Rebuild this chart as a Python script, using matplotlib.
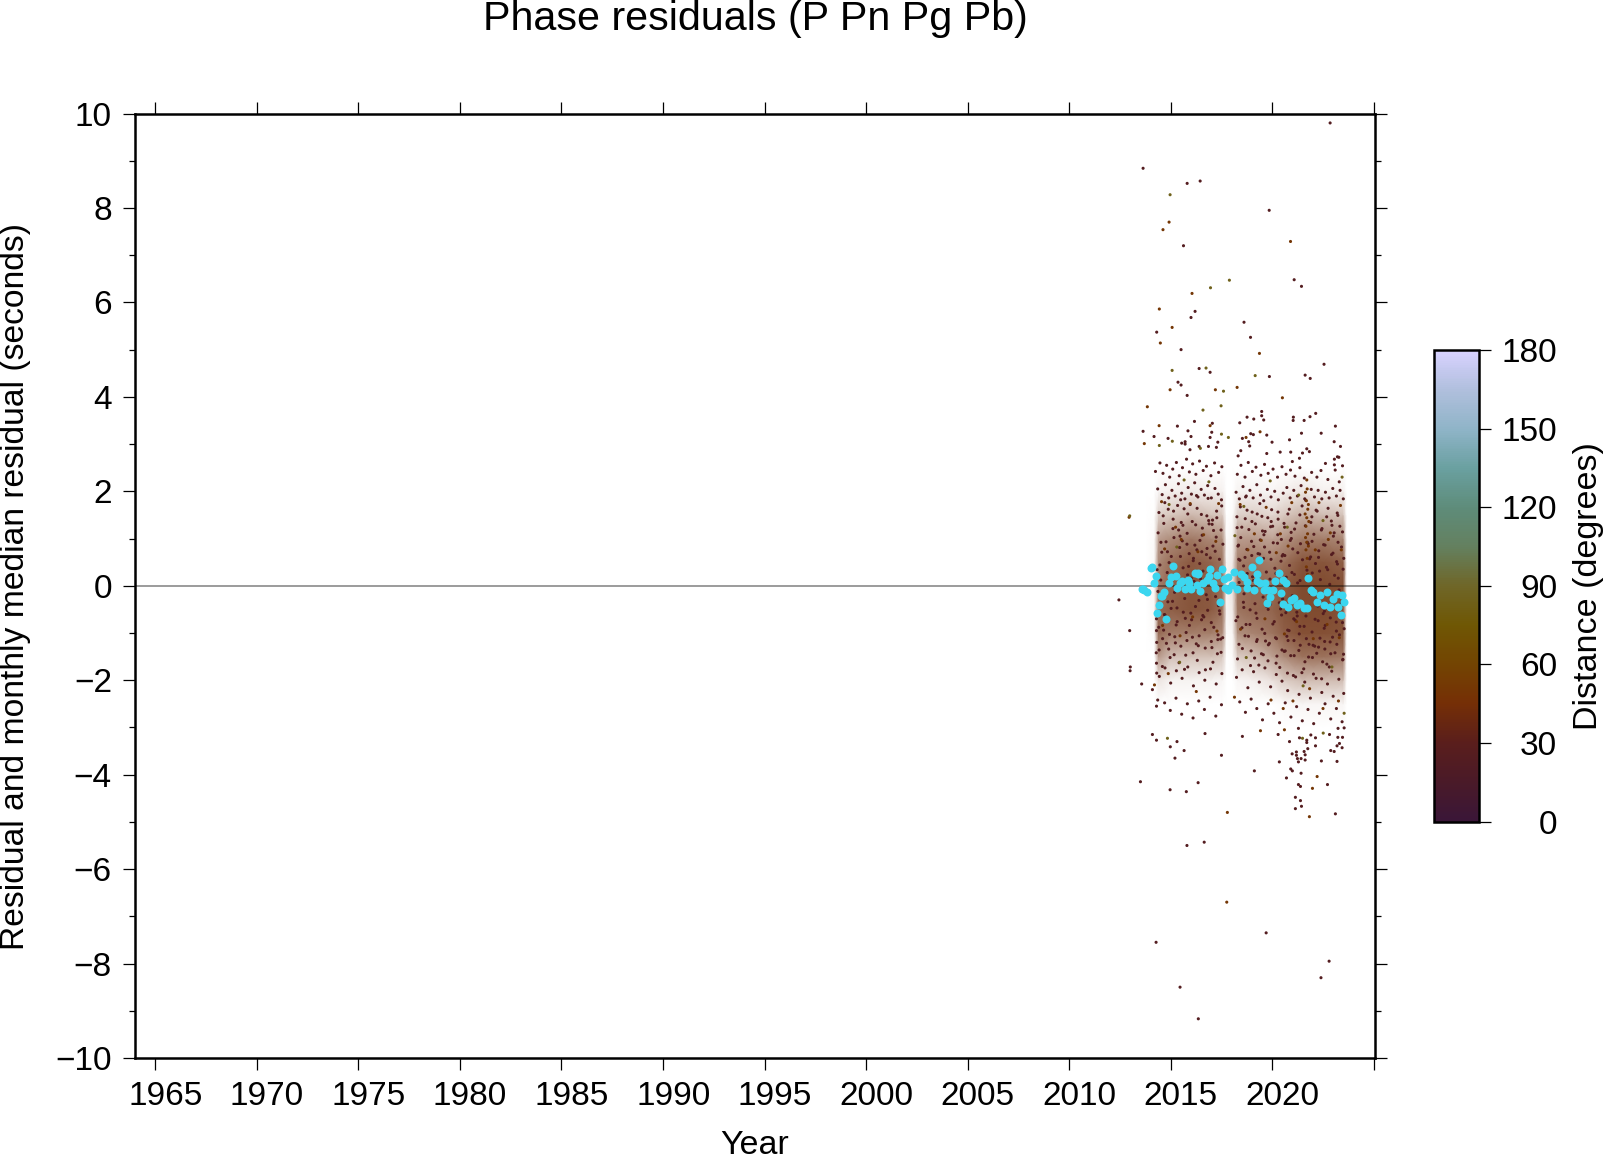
import matplotlib
matplotlib.use("Agg")
import matplotlib.pyplot as plt
from matplotlib.colors import LinearSegmentedColormap
from matplotlib.transforms import ScaledTranslation

plt.rcParams['font.family'] = ['Liberation Sans', 'DejaVu Sans']

# monthly medians (cyan)
median_year = [2013.63, 2013.57, 2013.69, 2013.82, 2014.02, 2014.10, 2014.26, 2014.20, 2014.57, 2014.67,
               2014.51, 2014.43, 2014.34, 2014.77, 2014.92, 2015.02, 2015.13, 2015.33, 2015.26, 2015.46,
               2015.54, 2015.71, 2015.87, 2015.92, 2015.99, 2016.20, 2016.36, 2016.36, 2016.28, 2016.45,
               2016.61, 2016.77, 2016.95, 2016.91, 2017.07, 2017.19, 2017.30, 2017.51, 2017.43, 2017.63,
               2017.68, 2017.84, 2017.84, 2018.01, 2018.12, 2018.25, 2018.45, 2018.61, 2018.74, 2018.78,
               2019.00, 2019.11, 2019.24, 2019.35, 2019.24, 2019.40, 2019.57, 2019.65, 2019.81, 2019.73,
               2019.89, 2020.06, 2020.14, 2020.35, 2020.44, 2020.52, 2020.55, 2020.68, 2020.80, 2020.91,
               2021.08, 2021.24, 2021.37, 2021.54, 2021.70, 2021.78, 2021.90, 2022.00, 2022.19, 2022.36,
               2022.55, 2022.69, 2022.85, 2023.01, 2023.21, 2023.26, 2023.38, 2023.42, 2023.54]
median_res = [-0.06, -0.06, -0.08, -0.13, 0.37, 0.39, 0.21, 0.06, -0.21, -0.13,
              -0.22, -0.41, -0.57, -0.70, 0.06, 0.19, 0.42, -0.04, 0.20, 0.05,
              0.11, -0.06, 0.12, 0.06, -0.06, 0.26, 0.24, 0.26, 0.01, -0.11,
              0.05, 0.13, 0.35, 0.20, 0.05, -0.04, 0.23, 0.35, -0.35, 0.14,
              -0.04, 0.18, -0.09, 0.01, 0.30, -0.06, 0.24, 0.19, 0.08, -0.04,
              0.40, -0.09, 0.25, 0.54, 0.11, 0.06, -0.08, 0.05, -0.09, -0.37,
              -0.23, -0.08, 0.11, 0.26, -0.16, -0.39, 0.13, 0.05, -0.46, -0.30,
              -0.25, -0.41, -0.36, -0.48, -0.48, 0.17, -0.09, -0.13, -0.34, -0.20,
              -0.41, -0.13, -0.45, -0.27, -0.18, -0.44, -0.61, -0.20, -0.35]

# density of the solid core, estimated by eye, since its dots overlap too much to read one by one
density_year = [2013.8, 2014.2, 2014.4, 2015.0, 2016.0, 2017.0, 2017.55, 2017.75, 2018.05, 2018.3,
                2019.0, 2020.0, 2020.6, 2021.5, 2022.5, 2023.5, 2023.65]
density_res = [-3.0, -2.5, -2.0, -1.5, -1.0, -0.5, 0.0, 0.5, 1.0, 1.5, 2.0, 2.5, 3.0]
density = [
    [0, 0, 0, 0, 0, 0, 0, 0, 0, 0, 0, 0, 0, 0, 0, 0, 0],
    [0, 0, 0, 0, 0, 0, 0, 0, 0, 0, 0, 0, .02, .04, .04, .04, 0],
    [0, 0, .10, .05, .05, .05, .04, 0, 0, .04, .06, .12, .20, .26, .26, .26, 0],
    [0, 0, .40, .25, .24, .24, .22, 0, .02, .20, .24, .36, .46, .55, .55, .52, 0],
    [0, .02, .58, .50, .50, .50, .45, .02, .04, .44, .48, .54, .62, .68, .68, .66, 0],
    [0, .03, .58, .62, .66, .64, .56, .04, .08, .54, .58, .60, .66, .70, .70, .68, 0],
    [0, .03, .50, .60, .66, .64, .56, .04, .12, .55, .58, .58, .64, .70, .70, .68, 0],
    [0, .03, .46, .56, .64, .60, .54, .04, .08, .50, .54, .50, .56, .66, .66, .62, 0],
    [0, .02, .38, .44, .52, .46, .44, .02, .05, .38, .40, .36, .42, .50, .50, .46, 0],
    [0, .01, .18, .22, .28, .24, .22, 0, .02, .18, .20, .16, .22, .30, .26, .24, 0],
    [0, 0, .04, .06, .08, .06, .06, 0, 0, .05, .05, .04, .06, .10, .06, .06, 0],
    [0, 0, 0, 0, 0, 0, 0, 0, 0, 0, 0, 0, 0, 0, 0, 0, 0],
    [0, 0, 0, 0, 0, 0, 0, 0, 0, 0, 0, 0, 0, 0, 0, 0, 0],
]

# dots at about 25 degrees (year, residual)
near_pts = [
    (2022.85, 9.80), (2013.64, 8.84), (2015.81, 8.52), (2016.45, 8.57), (2019.85, 7.95), (2015.63, 7.20),
    (2021.08, 6.48), (2021.44, 6.34), (2016.20, 5.81), (2016.00, 5.68), (2018.61, 5.58), (2014.31, 5.37),
    (2018.93, 5.26), (2015.51, 5.00), (2022.55, 4.69), (2016.40, 4.60), (2016.94, 4.52), (2019.86, 4.43),
    (2021.62, 4.46), (2021.87, 4.39), (2015.36, 4.31), (2015.51, 4.25), (2015.81, 4.03),
    (2013.64, 3.27), (2015.33, 3.38), (2016.17, 3.48), (2017.05, 3.44), (2014.18, 3.16), (2014.87, 3.12),
    (2015.85, 3.28), (2016.00, 3.16), (2017.02, 3.25), (2015.54, 3.02), (2015.71, 3.05), (2015.71, 3.00),
    (2015.95, 2.88), (2016.40, 2.95), (2016.86, 2.95), (2016.94, 3.14), (2017.32, 3.04), (2017.25, 2.93),
    (2018.40, 3.45), (2018.76, 3.57), (2019.09, 3.53), (2019.48, 3.69), (2019.48, 3.60), (2019.58, 3.51),
    (2018.94, 3.22), (2019.07, 3.20), (2019.73, 3.19), (2018.53, 3.12), (2018.84, 3.05), (2018.89, 2.96),
    (2019.99, 3.04), (2018.45, 2.86), (2018.32, 2.75), (2019.73, 2.80), (2020.39, 2.83), (2020.91, 2.83),
    (2021.04, 3.57), (2021.03, 3.50), (2021.57, 3.50), (2021.86, 3.58), (2022.14, 3.65), (2022.41, 3.23),
    (2021.44, 3.23), (2020.85, 3.09), (2023.11, 3.38), (2023.05, 3.05), (2023.36, 2.95), (2021.70, 2.90),
    (2021.83, 2.84), (2021.49, 2.81), (2021.34, 2.70), (2020.99, 2.63), (2023.06, 2.68), (2023.21, 2.73),
    (2023.28, 2.72), (2022.62, 2.59), (2023.06, 2.56), (2023.46, 2.54), (2023.10, 2.45),
    (2014.25, 2.42), (2014.47, 2.60), (2014.62, 2.38), (2014.80, 2.55), (2014.95, 2.30), (2015.10, 2.47),
    (2015.28, 2.61), (2015.42, 2.33), (2015.58, 2.50), (2015.78, 2.68), (2015.92, 2.41), (2016.08, 2.58),
    (2016.24, 2.36), (2016.42, 2.64), (2016.60, 2.44), (2016.76, 2.53), (2016.98, 2.33), (2017.16, 2.60),
    (2017.36, 2.40), (2017.52, 2.52), (2018.28, 2.36), (2018.46, 2.55), (2018.66, 2.30), (2018.82, 2.61),
    (2019.02, 2.42), (2019.20, 2.51), (2019.44, 2.34), (2019.62, 2.57), (2019.80, 2.38), (2020.04, 2.47),
    (2020.26, 2.30), (2020.48, 2.52), (2020.68, 2.36), (2020.90, 2.45), (2021.12, 2.32), (2021.36, 2.50),
    (2021.58, 2.28), (2021.94, 2.40), (2022.20, 2.30), (2022.40, 2.44), (2022.74, 2.25), (2023.30, 2.20),
    (2014.36, 2.05), (2014.58, 1.93), (2014.74, 2.14), (2014.90, 1.86), (2015.06, 2.02), (2015.22, 1.90),
    (2015.38, 2.16), (2015.54, 1.96), (2015.70, 1.84), (2015.86, 2.08), (2016.02, 1.94), (2016.18, 2.18),
    (2016.34, 1.88), (2016.50, 2.04), (2016.66, 1.92), (2016.82, 2.12), (2017.00, 1.86), (2017.18, 2.06),
    (2017.34, 1.94), (2017.50, 1.82), (2018.22, 1.98), (2018.38, 1.84), (2018.56, 2.10), (2018.72, 1.90),
    (2018.90, 2.02), (2019.06, 1.86), (2019.24, 2.14), (2019.42, 1.92), (2019.58, 1.80), (2019.76, 2.04),
    (2019.94, 1.88), (2020.12, 2.00), (2020.30, 1.82), (2020.54, 1.96), (2020.72, 2.08), (2020.88, 1.86),
    (2021.06, 2.02), (2021.24, 1.90), (2021.42, 2.12), (2021.60, 1.84), (2021.92, 2.04), (2022.08, 1.88),
    (2022.26, 2.02), (2022.44, 1.84), (2022.62, 1.98), (2022.80, 1.86), (2022.98, 2.06), (2023.16, 1.90),
    (2023.34, 2.02), (2023.50, 1.84),
    (2014.42, 1.55), (2014.66, 1.32), (2014.88, 1.62), (2015.12, 1.41), (2015.34, 1.70), (2015.60, 1.28),
    (2015.84, 1.52), (2016.06, 1.36), (2016.30, 1.64), (2016.56, 1.22), (2016.78, 1.48), (2017.04, 1.30),
    (2017.26, 1.58), (2017.48, 1.18), (2018.26, 1.46), (2018.50, 1.24), (2018.76, 1.60), (2019.00, 1.36),
    (2019.26, 1.52), (2019.52, 1.16), (2019.78, 1.44), (2020.02, 1.26), (2020.28, 1.56), (2020.58, 1.32),
    (2020.84, 1.62), (2021.10, 1.20), (2021.36, 1.50), (2021.90, 1.34), (2022.16, 1.60), (2022.42, 1.18),
    (2022.68, 1.46), (2022.94, 1.28), (2023.20, 1.54), (2023.46, 1.14),
    (2014.52, 0.92), (2014.84, 0.72), (2015.16, 1.02), (2015.48, 0.62), (2015.80, 0.88), (2016.12, 0.58),
    (2016.44, 0.96), (2016.76, 0.66), (2017.08, 0.84), (2017.40, 0.56), (2018.34, 0.86), (2018.66, 0.60),
    (2018.98, 0.94), (2019.30, 0.68), (2019.62, 0.82), (2019.94, 0.56), (2020.26, 0.90), (2020.62, 0.64),
    (2020.94, 1.00), (2021.26, 0.70), (2021.96, 0.94), (2022.28, 0.60), (2022.60, 0.86), (2022.92, 0.66),
    (2023.24, 0.92), (2023.52, 0.58),
    (2014.46, -0.42), (2014.72, -0.62), (2015.02, -0.48), (2015.32, -0.76), (2015.62, -0.56), (2015.92, -0.84),
    (2016.22, -0.44), (2016.52, -0.72), (2016.82, -0.52), (2017.12, -0.88), (2017.42, -0.60), (2018.30, -0.66),
    (2018.60, -0.46), (2018.90, -0.82), (2019.20, -0.58), (2019.50, -0.92), (2019.80, -0.50), (2020.10, -0.76),
    (2020.46, -0.62), (2020.76, -0.94), (2021.06, -0.70), (2021.36, -0.86), (2021.66, -0.64), (2021.96, -0.98),
    (2022.26, -0.74), (2022.56, -0.90), (2022.86, -0.68), (2023.16, -0.96), (2023.46, -0.78),
    (2014.30, -0.70), (2014.30, -0.95), (2014.31, -1.20), (2014.29, -1.42), (2014.30, -1.64), (2014.31, -1.85),
    (2014.60, -1.12), (2014.90, -1.34), (2015.20, -1.08), (2015.50, -1.28), (2015.80, -1.16), (2016.10, -1.42),
    (2016.40, -1.06), (2016.70, -1.32), (2017.00, -1.18), (2017.30, -1.44), (2017.56, -1.10), (2018.36, -1.24),
    (2018.66, -1.06), (2018.96, -1.38), (2019.26, -1.14), (2019.56, -1.46), (2019.86, -1.22), (2020.16, -1.10),
    (2020.48, -1.36), (2020.78, -1.16), (2021.08, -1.48), (2021.38, -1.26), (2021.68, -1.12), (2021.98, -1.52),
    (2022.28, -1.30), (2022.58, -1.18), (2022.88, -1.44), (2023.18, -1.24), (2023.48, -1.56),
    (2014.44, -1.92), (2014.72, -1.74), (2015.00, -2.06), (2015.28, -1.80), (2015.56, -1.96), (2015.84, -1.72),
    (2016.12, -2.12), (2016.40, -1.84), (2016.68, -2.00), (2016.96, -1.76), (2017.24, -2.08), (2017.52, -1.86),
    (2018.24, -1.94), (2018.52, -1.78), (2018.80, -2.16), (2019.08, -1.82), (2019.36, -2.04), (2019.64, -1.74),
    (2019.92, -2.14), (2020.20, -1.88), (2020.48, -2.02), (2020.76, -2.22), (2021.04, -1.90), (2021.32, -2.30),
    (2021.60, -2.04), (2021.88, -2.38), (2022.16, -1.96), (2022.44, -2.26), (2022.72, -2.08), (2023.00, -2.34),
    (2023.28, -1.98), (2023.52, -2.28),
    (2013.57, -2.08), (2014.10, -2.20), (2014.30, -2.55), (2014.36, -2.42), (2014.70, -2.48), (2014.98, -2.64),
    (2015.26, -2.38), (2015.54, -2.72), (2015.82, -2.50), (2016.10, -2.80), (2016.38, -2.44), (2016.66, -2.62),
    (2016.94, -2.36), (2017.22, -2.76), (2017.50, -2.52), (2018.40, -2.46), (2018.68, -2.68), (2018.96, -2.40),
    (2019.24, -2.60), (2019.52, -2.84), (2019.80, -2.50), (2020.08, -2.70), (2020.36, -2.90), (2020.64, -2.48),
    (2020.92, -2.78), (2021.20, -2.56), (2021.48, -2.86), (2021.76, -2.62), (2022.04, -2.92), (2022.32, -2.70),
    (2022.60, -2.50), (2022.88, -2.82), (2023.16, -2.60), (2023.44, -2.88),
    (2023.11, -4.83), (2021.14, -4.72), (2021.44, -4.67), (2021.39, -4.55), (2021.14, -4.48), (2015.77, -4.36),
    (2014.97, -4.32), (2013.51, -4.15), (2016.35, -4.17), (2021.29, -4.21), (2021.39, -4.25), (2022.72, -4.21),
    (2021.42, -3.97), (2020.70, -4.07), (2019.12, -3.92), (2020.91, -3.88), (2020.99, -3.92), (2020.35, -3.73),
    (2022.42, -3.71), (2023.19, -3.72), (2021.29, -3.73), (2021.62, -3.69), (2021.24, -3.66), (2021.42, -3.66),
    (2020.98, -3.56), (2021.19, -3.52), (2021.19, -3.59), (2021.62, -3.58), (2015.21, -3.65), (2017.50, -3.59),
    (2015.66, -3.49), (2014.98, -3.41), (2022.88, -3.49), (2023.05, -3.51), (2023.44, -3.43), (2023.19, -3.39),
    (2023.31, -3.34), (2021.75, -3.45), (2021.57, -3.51), (2022.13, -3.39), (2014.30, -3.27), (2015.31, -3.30),
    (2014.10, -3.15), (2016.69, -3.13), (2018.53, -3.19), (2020.29, -3.15), (2021.34, -3.22), (2021.70, -3.27),
    (2021.70, -3.32), (2020.85, -3.30), (2021.90, -3.16), (2022.13, -3.22), (2022.82, -3.15), (2023.23, -3.21),
    (2023.46, -3.21), (2023.24, -3.02), (2023.54, -3.01), (2021.29, -3.02),
    (2016.36, -9.17), (2015.46, -8.50), (2014.28, -7.55), (2022.40, -8.30), (2022.80, -7.95), (2019.70, -7.35),
    (2016.65, -5.43), (2015.80, -5.50), (2013.00, -1.80), (2013.01, -1.72), (2012.45, -0.30), (2012.98, -0.95),
]

# more dots of the core, estimated positions rather than exact readings
core_year = [
    2014.33, 2014.41, 2014.38, 2014.49, 2014.56, 2014.43, 2014.63, 2014.51, 2014.69, 2014.77, 2014.59, 2014.83, 2014.71, 2014.94, 2014.86,
    2015.03, 2014.97, 2015.11, 2015.19, 2015.07, 2015.27, 2015.14, 2015.36, 2015.23, 2015.44, 2015.31, 2015.52, 2015.41, 2015.61, 2015.49,
    2015.69, 2015.57, 2015.76, 2015.66, 2015.83, 2015.74, 2015.91, 2015.81, 2015.99, 2015.88, 2016.07, 2015.96, 2016.15, 2016.03, 2016.23,
    2016.11, 2016.31, 2016.19, 2016.39, 2016.27, 2016.47, 2016.36, 2016.55, 2016.43, 2016.63, 2016.51, 2016.71, 2016.59, 2016.79, 2016.68,
    2016.87, 2016.75, 2016.95, 2016.84, 2017.03, 2016.92, 2017.11, 2017.00, 2017.19, 2017.08, 2017.27, 2017.16, 2017.35, 2017.24, 2017.43,
    2017.32, 2017.51, 2017.40, 2017.57, 2017.48, 2018.18, 2018.27, 2018.21, 2018.35, 2018.29, 2018.43, 2018.37, 2018.51, 2018.45, 2018.59,
    2018.53, 2018.67, 2018.61, 2018.75, 2018.69, 2018.83, 2018.77, 2018.91, 2018.85, 2018.99, 2018.93, 2019.07, 2019.01, 2019.15, 2019.09,
    2019.23, 2019.17, 2019.31, 2019.25, 2019.39, 2019.33, 2019.47, 2019.41, 2019.55, 2019.49, 2019.63, 2019.57, 2019.71, 2019.65, 2019.79,
    2019.73, 2019.87, 2019.81, 2019.95, 2019.89, 2020.03, 2019.97, 2020.11, 2020.05, 2020.19, 2020.13, 2020.27, 2020.21, 2020.35, 2020.29,
    2020.43, 2020.37, 2020.51, 2020.45, 2020.59, 2020.53, 2020.67, 2020.61, 2020.75, 2020.69, 2020.83, 2020.77, 2020.91, 2020.85, 2020.99,
    2020.93, 2021.07, 2021.01, 2021.15, 2021.09, 2021.23, 2021.17, 2021.31, 2021.25, 2021.39, 2021.33, 2021.47, 2021.41, 2021.55, 2021.49,
    2021.63, 2021.57, 2021.71, 2021.65, 2021.79, 2021.73, 2021.87, 2021.81, 2021.95, 2021.89, 2022.03, 2021.97, 2022.11, 2022.05, 2022.19,
    2022.13, 2022.27, 2022.21, 2022.35, 2022.29, 2022.43, 2022.37, 2022.51, 2022.45, 2022.59, 2022.53, 2022.67, 2022.61, 2022.75, 2022.69,
    2022.83, 2022.77, 2022.91, 2022.85, 2022.99, 2022.93, 2023.07, 2023.01, 2023.15, 2023.09, 2023.23, 2023.17, 2023.31, 2023.25, 2023.39,
    2023.33, 2023.47, 2023.41, 2023.54, 2023.49, 2014.37, 2014.65, 2014.92, 2015.17, 2015.46, 2015.72, 2016.01, 2016.26, 2016.53, 2016.81,
    2017.06, 2017.33, 2018.31, 2018.58, 2018.87, 2019.13, 2019.38, 2019.67, 2019.92, 2020.18, 2020.41, 2020.64, 2020.89, 2021.13, 2021.37,
    2021.61, 2021.84, 2022.09, 2022.33, 2022.57, 2022.81, 2023.05, 2023.29, 2023.51, 2014.47, 2014.79, 2015.09, 2015.39, 2015.68, 2015.97,
    2016.29, 2016.58, 2016.89, 2017.21, 2017.46, 2018.41, 2018.71, 2019.03, 2019.34, 2019.59, 2019.91, 2020.23, 2020.49, 2020.72, 2020.97,
    2021.21, 2021.46, 2021.77, 2022.01, 2022.24, 2022.48, 2022.73, 2022.97, 2023.21, 2023.44,
]
core_res = [
    0.34, -0.88, 1.12, -0.22, 0.71, -1.36, 1.48, 0.12, -0.61, 0.93, -1.71, 0.28, 1.76, -1.03, -0.34,
    0.62, -1.52, 1.21, -0.14, 0.44, -0.83, 1.58, 0.17, -1.21, 0.81, -0.47, 1.34, -1.63, 0.38, 1.82,
    -0.27, 0.95, -0.99, 1.63, 0.23, -1.47, 0.68, 1.11, -0.58, 0.41, -1.09, 1.72, 0.09, -0.72, 1.29,
    0.53, -1.58, 0.86, -0.31, 1.91, 0.15, -1.27, 1.07, 0.47, -0.66, 1.51, -1.78, 0.31, 0.79, -0.93,
    1.38, -0.19, 0.59, 1.85, -1.31, 0.21, 1.17, -0.78, 0.73, -1.62, 1.44, 0.04, -0.42, 1.03, 0.36,
    -1.14, 1.69, -0.53, 0.88, -1.41, 0.32, 1.23, -0.74, 0.56, -1.55, 1.67, 0.07, -0.89, 1.02, 0.42,
    -1.33, 1.42, -0.17, 0.77, 1.88, -1.07, 0.26, -0.51, 1.19, 0.64, -1.69, 0.11, 1.56, -0.38, 0.83,
    -1.18, 1.31, 0.49, -0.69, 1.74, 0.19, -1.44, 0.97, -0.24, 1.47, -1.01, 0.58, 0.29, 1.15, -1.59,
    -0.44, 0.71, -1.25, 1.36, 0.14, -0.81, 1.61, -0.13, 0.91, -1.64, 0.37, 1.08, -1.12, -0.36, 1.41,
    0.52, -1.73, -0.28, 0.98, -1.39, 0.66, -0.57, 1.24, -1.85, 0.18, -0.95, 1.52, -1.48, 0.43, -0.21,
    1.13, -1.16, 0.78, -1.93, 0.24, -0.64, 1.33, -1.37, 0.06, 0.89, -1.02, 1.69, -0.41, -1.76, 0.55,
    1.27, -0.86, 0.33, 1.81, -1.51, 0.92, -0.16, -1.24, 1.46, 0.61, -1.87, 0.27, -0.71, 1.09, -1.43,
    0.47, -0.32, 1.58, -1.11, 0.74, -1.97, 0.13, -0.59, 1.21, -1.34, 0.87, 0.39, -0.84, 1.64, -1.66,
    0.03, -0.48, 1.37, -1.19, 0.69, -1.81, 0.22, 1.05, -0.77, -1.42, 1.49, 0.51, -1.04, 0.16, -0.37,
    1.26, -1.57, 0.82, -0.91, 0.35, -0.12, -0.94, 0.49, -1.46, 1.05, -0.69, 0.16, -1.23, 0.72, -0.29,
    1.39, -1.04, 0.84, -0.35, 0.09, -1.53, 0.67, -1.17, 1.25, 0.26, -0.49, -1.38, 0.96, -0.73, 0.11,
    -1.61, 0.57, -1.28, 0.31, -0.54, -1.72, 1.12, -0.09, -1.45, 0.44, -1.22, -0.33, 1.18, -1.77, 0.08,
    0.76, -0.63, 1.31, -0.23, -1.13, 0.54, -0.82, 0.19, -1.68, 1.08, -0.39, -1.49, 0.63, -1.07, 0.28,
    -0.56, -1.84, 0.89, -1.26, -0.43, -1.61, 0.34, -1.09, 0.46, -0.67,
]

# dots at about 50 degrees
mid_pts = [
    (2014.92, 7.70), (2014.62, 7.54), (2020.90, 7.29), (2016.05, 6.19), (2014.44, 5.86), (2015.07, 5.47),
    (2014.49, 5.14), (2019.37, 4.92), (2014.97, 4.15), (2017.20, 4.15), (2018.27, 4.20), (2020.50, 3.98),
    (2013.85, 3.79), (2014.43, 3.39), (2016.94, 3.39), (2013.70, 3.01), (2019.40, 3.26), (2018.71, 3.14),
    (2021.72, 2.05), (2021.68, 1.80), (2021.75, 1.62), (2021.70, 1.44), (2021.66, 1.26), (2021.74, 1.10),
    (2021.70, 0.92), (2021.66, 0.76), (2021.72, 0.58), (2021.68, 0.40), (2021.74, 0.24), (2021.70, 2.24),
    (2021.64, 1.98), (2021.78, 1.72), (2021.62, 1.52), (2021.80, 1.36), (2021.64, 1.02), (2021.78, 0.84),
    (2014.55, 1.78), (2015.24, 1.24), (2015.96, 1.74), (2016.62, 1.08), (2017.36, 1.74), (2018.42, 1.72),
    (2019.12, 1.10), (2019.70, 1.66), (2020.40, 1.10), (2020.96, 1.76), (2022.30, 1.76), (2022.86, 1.12),
    (2023.36, 1.70), (2014.70, 0.78), (2015.52, 0.98), (2016.34, 0.72), (2017.22, 0.94), (2018.80, 0.76),
    (2019.46, 0.96), (2020.20, 0.70), (2020.78, 0.84), (2022.12, 0.76), (2022.76, 0.98), (2023.40, 0.76),
    (2014.60, -0.84), (2015.46, -1.06), (2016.08, -0.66), (2017.28, -0.96), (2018.44, -0.92), (2019.64, -0.70),
    (2020.60, -1.02), (2021.20, -0.76), (2022.02, -1.12), (2022.70, -0.82), (2023.30, -1.10),
    (2014.20, -2.10), (2014.88, -1.86), (2016.26, -2.24), (2018.14, -2.36), (2019.94, -2.42), (2020.54, -2.60),
    (2021.02, -2.44), (2021.84, -2.18), (2022.50, -2.60), (2023.26, -2.44),
    (2017.79, -4.80), (2021.83, -4.89), (2021.98, -4.29), (2022.21, -4.04), (2019.42, -3.07), (2020.60, -3.05),
    (2017.76, -6.70), (2012.95, 1.45),
]

# dots at about 85 degrees
far_pts = [
    (2014.97, 8.28), (2017.89, 6.47), (2016.96, 6.31), (2016.74, 4.61), (2015.07, 4.56), (2019.16, 4.45),
    (2017.60, 4.12), (2016.59, 3.72), (2017.48, 3.81), (2017.50, 3.21), (2017.84, 3.14), (2014.44, 2.97),
    (2015.08, 3.06), (2016.46, 2.91), (2012.98, 1.48), (2014.92, 1.72), (2015.66, 2.24), (2016.88, 2.20),
    (2018.60, 1.68), (2019.90, 2.22), (2020.74, 1.24), (2022.50, 1.38), (2023.44, 2.30), (2015.30, 0.82),
    (2018.16, 1.06), (2021.30, 1.92), (2014.84, -3.23), (2021.49, -3.23), (2022.51, -3.12), (2023.54, -2.70),
    (2015.44, -1.62), (2018.72, -1.52), (2021.52, -2.12), (2022.94, -1.72),
]

# colorbar stops (distance, colour)
cbar_dist = [0, 15, 30, 45, 60, 75, 90, 105, 120, 135, 150, 165, 180]
cbar_hex = ['#3a1638', '#4a1a28', '#5a1e1c', '#752f06', '#734402', '#6f5704', '#6f6628', '#64805f',
            '#5e8c7a', '#6aa0a0', '#8fb4c8', '#b0bfdd', '#d8d2ff']
near_dist = 25
mid_dist = 50
far_dist = 85

x_ticks = [1965, 1970, 1975, 1980, 1985, 1990, 1995, 2000, 2005, 2010, 2015, 2020, 2025]
x_labels = ['1965', '1970', '1975', '1980', '1985', '1990', '1995', '2000', '2005', '2010', '2015', '2020', '']
y_ticks = [-10, -8, -6, -4, -2, 0, 2, 4, 6, 8, 10]
y_minor = [-9, -7, -5, -3, -1, 1, 3, 5, 7, 9]
cbar_ticks = [0, 30, 60, 90, 120, 150, 180]

W, H = 1606, 1161
fig = plt.figure(figsize=(W / 100, H / 100), dpi=100)
ax = fig.add_axes([135 / W, (H - 1058) / H, (1375 - 135) / W, (1058 - 113.5) / H])

cmap = LinearSegmentedColormap.from_list('dist', [(d / 180, c) for d, c in zip(cbar_dist, cbar_hex)])
shade = LinearSegmentedColormap.from_list('shade', ['#ffffff', '#6b2c0c'])
ax.pcolormesh(density_year, density_res, density, cmap=shade, vmin=0, vmax=0.82, shading='gouraud', zorder=1)

near_x = [p[0] for p in near_pts] + core_year
near_y = [p[1] for p in near_pts] + core_res
for xs, ys, d in [(near_x, near_y, near_dist),
                  ([p[0] for p in mid_pts], [p[1] for p in mid_pts], mid_dist),
                  ([p[0] for p in far_pts], [p[1] for p in far_pts], far_dist)]:
    ax.scatter(xs, ys, s=5, c=[d] * len(xs), cmap=cmap, vmin=0, vmax=180, linewidths=0, zorder=2)

ax.axhline(0, color='black', alpha=0.5, lw=1.1, zorder=3)
ax.scatter(median_year, median_res, s=33, color='#3cd6ef', linewidths=0, zorder=4)

ax.set_xlim(1964, 2025.06)
ax.set_ylim(-10, 10)
ax.set_xticks(x_ticks)
ax.set_xticklabels(x_labels)
ax.set_yticks(y_ticks)
ax.set_yticks(y_minor, minor=True)
ax.tick_params(which='major', direction='out', length=8.6, width=0.9, labelsize=24, top=True, right=True)
ax.tick_params(which='minor', direction='out', length=4.3, width=0.9, top=False, right=True)
ax.tick_params(axis='x', pad=8)
ax.tick_params(axis='y', pad=8)
for s in ax.spines.values():
    s.set_linewidth(1.8)
# the year labels sit a little right of their ticks in the original
shift = ScaledTranslation(7.3 / 72, 0, fig.dpi_scale_trans)
for lab in ax.get_xticklabels():
    lab.set_transform(lab.get_transform() + shift)

cax = fig.add_axes([1434 / W, (H - 821.7) / H, (1478.7 - 1434) / W, (821.7 - 350) / H])
cb = fig.colorbar(plt.cm.ScalarMappable(norm=plt.Normalize(0, 180), cmap=cmap), cax=cax)
cb.set_ticks(cbar_ticks)
cb.ax.tick_params(direction='out', length=8.6, width=0.9, labelsize=24, pad=48)
for lab in cb.ax.get_yticklabels():
    lab.set_ha('right')
cb.outline.set_linewidth(1.8)

fig.text(755 / W, 1 - 19 / H, 'Phase residuals (P Pn Pg Pb)', fontsize=29.7, ha='center', va='center')
fig.text(755 / W, 1 - 1145 / H, 'Year', fontsize=24.5, ha='center', va='center')
fig.text(16 / W, 1 - 586 / H, 'Residual and monthly median residual (seconds)', fontsize=24.2,
         rotation=90, ha='center', va='center')
fig.text(1589 / W, 1 - 586 / H, 'Distance (degrees)', fontsize=24.5, rotation=90, ha='center', va='center')

fig.savefig('out.png', dpi=100)
